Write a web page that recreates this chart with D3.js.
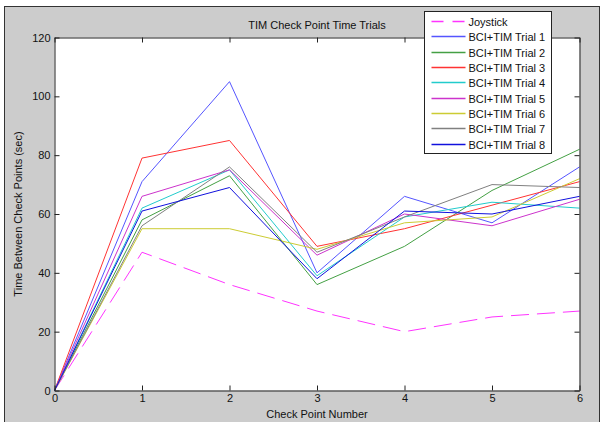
<!DOCTYPE html>
<html>
<head>
<meta charset="utf-8">
<script src="https://cdn.jsdelivr.net/npm/d3@7"></script>
<style>
    body { margin: 0; background: #fff; }
    text { font-family: Arial, "Liberation Sans", sans-serif; font-size: 11px; fill: #111; }
</style>
</head>
<body>
<div class="chart"></div>
<script>
'use strict';

// values
var checkPoints = [0, 1, 2, 3, 4, 5, 6];
var xTicks = [0, 1, 2, 3, 4, 5, 6];
var yTicks = [0, 20, 40, 60, 80, 100, 120];

var joystick = [0, 47, 36, 27, 20, 25, 27];
var trial1 = [0, 71, 105, 40, 66, 57, 76];
var trial2 = [0, 58, 73, 36, 49, 68, 82];
var trial3 = [0, 79, 85, 49, 55, 63, 71];
var trial4 = [0, 62, 75, 39, 59, 64, 62];
var trial5 = [0, 66, 75, 46, 60, 56, 65];
var trial6 = [0, 55, 55, 48, 57, 59, 72];
var trial7 = [0, 56, 76, 47, 59, 70, 69];
var trial8 = [0, 61, 69, 38, 61, 60, 66];

var seriesNames = ['Joystick', 'BCI+TIM Trial 1', 'BCI+TIM Trial 2', 'BCI+TIM Trial 3',
    'BCI+TIM Trial 4', 'BCI+TIM Trial 5', 'BCI+TIM Trial 6', 'BCI+TIM Trial 7', 'BCI+TIM Trial 8'];

(function () {

    var series = [joystick, trial1, trial2, trial3, trial4, trial5, trial6, trial7, trial8];
    var colors = ['#ff33ff', '#5555ff', '#44a044', '#ff3333', '#22cccc',
        '#cc33cc', '#cccc33', '#808080', '#1111dd'];

    var width = 601;
    var height = 422;
    var plot = { left: 54.5, right: 579.5, top: 37.5, bottom: 390.5 };

    var svg = d3.select('.chart')
        .append('svg')
        .attr('width', width)
        .attr('height', height);

    // figure background
    svg.append('rect')
        .attr('x', 4.5)
        .attr('y', 6.5)
        .attr('width', 595)
        .attr('height', 420)
        .attr('fill', '#cccccc')
        .attr('stroke', '#333');

    var x = d3.scaleLinear().domain([0, 6]).range([plot.left, plot.right]);
    var y = d3.scaleLinear().domain([0, 120]).range([plot.bottom, plot.top]);

    svg.append('rect')
        .attr('x', plot.left)
        .attr('y', plot.top)
        .attr('width', plot.right - plot.left)
        .attr('height', plot.bottom - plot.top)
        .attr('fill', '#fff');

    // lines
    var line = d3.line()
        .x(function (d, i) { return x(checkPoints[i]); })
        .y(function (d) { return y(d); });

    svg.selectAll('path.series')
        .data(series)
        .enter()
        .append('path')
        .attr('class', 'series')
        .attr('d', line)
        .attr('fill', 'none')
        .attr('stroke', function (d, i) { return colors[i]; })
        .attr('stroke-width', 1)
        .attr('stroke-dasharray', function (d, i) { return i === 0 ? '18,8' : null; });

    // axes, matlab box style with ticks inside
    var axisBottom = d3.axisBottom(x).tickValues(xTicks).tickFormat(d3.format('d'))
        .tickSizeInner(-5).tickSizeOuter(0).tickPadding(4);
    var axisTop = d3.axisTop(x).tickValues(xTicks).tickSizeInner(-5).tickSizeOuter(0).tickFormat('');
    var axisLeft = d3.axisLeft(y).tickValues(yTicks).tickSizeInner(-5).tickSizeOuter(0).tickPadding(4);
    var axisRight = d3.axisRight(y).tickValues(yTicks).tickSizeInner(-5).tickSizeOuter(0).tickFormat('');

    function styleAxis(g) {
        g.select('.domain').attr('stroke', '#222');
        g.selectAll('.tick line').attr('stroke', '#222');
        g.selectAll('.tick text')
            .attr('font-family', 'Arial, "Liberation Sans", sans-serif')
            .attr('font-size', 11)
            .attr('fill', '#111');
    }

    svg.append('g').attr('transform', 'translate(0,' + plot.bottom + ')').call(axisBottom).call(styleAxis);
    svg.append('g').attr('transform', 'translate(0,' + plot.top + ')').call(axisTop).call(styleAxis);
    svg.append('g').attr('transform', 'translate(' + plot.left + ',0)').call(axisLeft).call(styleAxis);
    svg.append('g').attr('transform', 'translate(' + plot.right + ',0)').call(axisRight).call(styleAxis);

    // titles
    svg.append('text')
        .attr('x', (plot.left + plot.right) / 2)
        .attr('y', 28.5)
        .attr('text-anchor', 'middle')
        .text('TIM Check Point Time Trials');

    svg.append('text')
        .attr('x', (plot.left + plot.right) / 2)
        .attr('y', 417.5)
        .attr('text-anchor', 'middle')
        .text('Check Point Number');

    svg.append('text')
        .attr('transform', 'translate(22,' + (plot.top + plot.bottom) / 2 + ') rotate(-90)')
        .attr('text-anchor', 'middle')
        .text('Time Between Check Points (sec)');

    // legend
    var legend = svg.append('g').attr('transform', 'translate(424.5,11.5)');

    legend.append('rect')
        .attr('width', 127)
        .attr('height', 142)
        .attr('fill', '#fff')
        .attr('stroke', '#222');

    var items = legend.selectAll('g.item')
        .data(seriesNames)
        .enter()
        .append('g')
        .attr('class', 'item')
        .attr('transform', function (d, i) { return 'translate(0,' + Math.round(10 + i * 15.35) + ')'; });

    items.append('line')
        .attr('x1', 7)
        .attr('x2', 41)
        .attr('stroke', function (d, i) { return colors[i]; })
        .attr('stroke-width', 1.5)
        .attr('stroke-dasharray', function (d, i) { return i === 0 ? '12,9' : null; });

    items.append('text')
        .attr('x', 44)
        .attr('y', 4)
        .text(function (d) { return d; });

})();
</script>
</body>
</html>
